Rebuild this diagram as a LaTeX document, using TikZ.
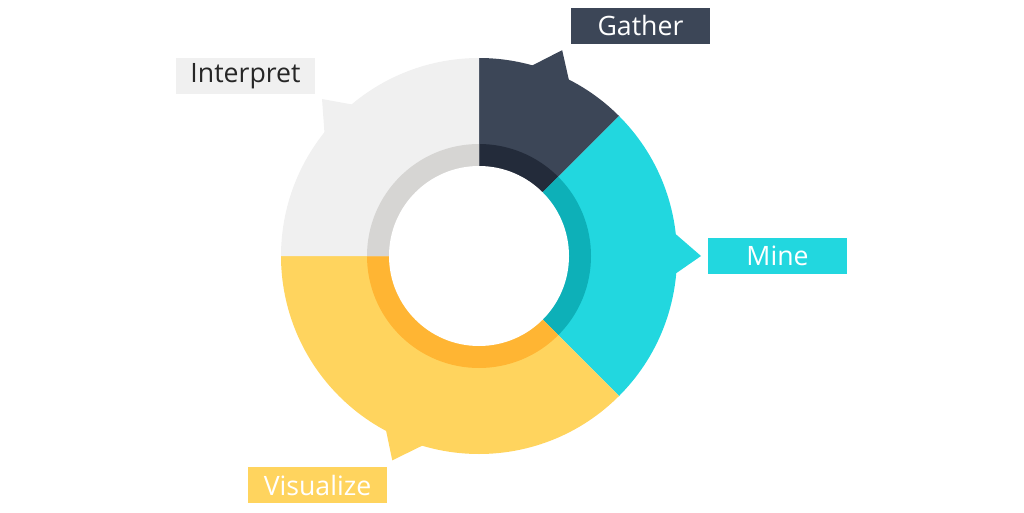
\documentclass[tikz,border=0pt]{standalone}
\usepackage{fontspec}
\setmainfont{Open Sans}
\definecolor{gat}{HTML}{3C4657}\definecolor{gati}{HTML}{232B3A}
\definecolor{min}{HTML}{22D7DF}\definecolor{mini}{HTML}{0DB0B8}
\definecolor{vis}{HTML}{FFD45E}\definecolor{visi}{HTML}{FFB533}
\definecolor{int}{HTML}{F0F0F0}\definecolor{inti}{HTML}{D6D5D3}
\tikzset{lbl/.style={minimum width=104pt,minimum height=27pt,inner sep=0pt,font=\fontsize{20}{22}\selectfont}}
\begin{document}
\begin{tikzpicture}[x=0.75pt,y=0.75pt]
\useasboundingbox (0,0) rectangle (1024,512);
\coordinate (c) at (479,256);
\def\seg#1#2#3#4#5{%
 \fill[#1] (c) ++(#3:198) arc[start angle=#3,end angle=#4,radius=198] -- (c) -- cycle;
 \fill[#2] (c) ++(#3:112) arc[start angle=#3,end angle=#4,radius=112] -- (c) -- cycle;
 \fill[#1] ($(c)+(#5-7:190)$) -- ($(c)+(#5:222)$) -- ($(c)+(#5+9:190)$) -- cycle;}
\usetikzlibrary{calc}
\seg{gat}{gati}{90}{45}{68}
\seg{min}{mini}{45}{-45}{0}
\seg{vis}{visi}{-45}{-180}{-113}
\seg{int}{inti}{180}{90}{135}
\fill[white] (c) circle[radius=90];
\node[lbl,fill=gat,text=white] (g) at (640.5,486) {Gather};
\node[lbl,fill=min,text=white] (m) at (777.5,256) {Mine};
\node[lbl,fill=vis,text=white] (v) at (317.5,27) {Visualize};
\node[lbl,fill=int,text=black!85] (i) at (245.5,436) {Interpret};
\end{tikzpicture}
\end{document}
